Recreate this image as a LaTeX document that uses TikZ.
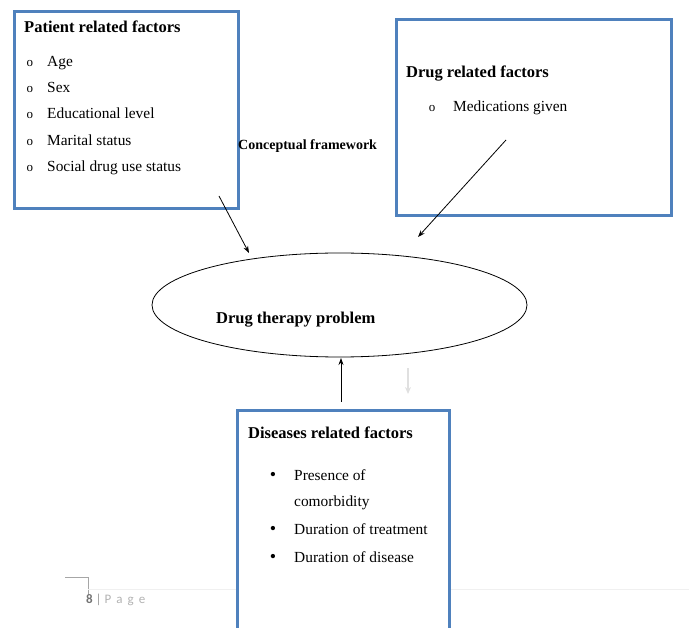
\documentclass[tikz,border=0pt]{standalone}
\usepackage{fontspec}
\setmainfont{Liberation Serif}
\newfontfamily\footfont{Carlito}
\usetikzlibrary{arrows.meta,shapes.geometric}
\definecolor{boxblue}{RGB}{79,129,189}
\tikzset{
  factorbox/.style={draw=boxblue,line width=3pt,fill=white},
  title/.style={anchor=base west,inner sep=0pt,font=\fontsize{16.5}{18}\selectfont\bfseries},
  item/.style={anchor=base west,inner sep=0pt,font=\fontsize{15.4}{17}\selectfont},
  bulletmark/.style={anchor=base,inner sep=0pt,font=\fontsize{13}{14}\selectfont},
  conn/.style={line width=0.8pt,-{Stealth[length=7pt,width=5pt]}}
}
\begin{document}
\begin{tikzpicture}[x=1pt,y=-1pt]
\useasboundingbox (0,0) rectangle (689,628);
% footer
\draw[black!35,line width=0.6pt] (65,577) -- (88,577) -- (88,595);
\draw[black!6,line width=0.8pt] (88,589) -- (689,589);
\node[anchor=base west,inner sep=0pt,font=\footfont\fontsize{13}{14}\selectfont] (foot) at (86,604)
  {\textcolor{black!55}{\bfseries 8} \textcolor{black!40}{|} \textcolor{black!30}{\addfontfeature{LetterSpace=40}Page}};
% boxes
\node[factorbox,minimum width=224,minimum height=197,anchor=north west] (patient) at (13,10) {};
\node[factorbox,minimum width=275,minimum height=196,anchor=north west] (drug) at (395,18) {};
\draw[factorbox] (237,640) |- (449,411) -- (449,640);
\node[inner sep=0pt,minimum width=212,minimum height=220,anchor=north west] (disease) at (237,411) {};
% ellipse
\node[draw,ellipse,line width=0.8pt,minimum width=375,minimum height=104] (dtp) at (339.5,305) {};
\node[title] (dtptext) at (216,324) {Drug therapy problem};
% patient text
\node[title] (pt) at (24,33) {Patient related factors};
\foreach \y/\t [count=\i] in {67/Age,93/Sex,119/Educational level,146/Marital status,172/Social drug use status}{
  \node[bulletmark] (pm\i) at (30,\y) {o};
  \node[item] (pi\i) at (47,\y) {\t};
}
\node[anchor=base west,inner sep=0pt,font=\fontsize{14}{15}\selectfont\bfseries] (cf) at (238,150) {Conceptual framework};
% drug text
\node[title] (dt) at (406,78) {Drug related factors};
\node[bulletmark] (dm1) at (432,112) {o};
\node[item] (di1) at (453,112) {Medications given};
% disease text
\node[title] (ds) at (248,439) {Diseases related factors};
\foreach \y [count=\i] in {481,535,562}{
  \node[anchor=base,inner sep=0pt,font=\fontsize{18}{20}\selectfont] (db\i) at (273,\y) {\textbullet};
}
\node[item] (dl1) at (294,481) {Presence of};
\node[item] (dl2) at (294,507) {comorbidity};
\node[item] (dl3) at (294,535) {Duration of treatment};
\node[item] (dl4) at (294,562) {Duration of disease};
% connectors
\coordinate (a1s) at (219,196);
\coordinate (a1e) at (249,253);
\coordinate (a2s) at (506,140);
\coordinate (a2e) at (418,237);
\coordinate (a3s) at (341,402);
\coordinate (a3e) at (341,358);
\coordinate (fs) at (408,368);
\coordinate (fe) at (408,394);
\draw[conn] (a1s) -- (a1e);
\draw[conn] (a2s) -- (a2e);
\draw[conn] (a3s) -- (a3e);
\draw[black!12,line width=1.5pt,-{Stealth[length=7pt,width=6pt]}] (fs) -- (fe);
\end{tikzpicture}
\end{document}
